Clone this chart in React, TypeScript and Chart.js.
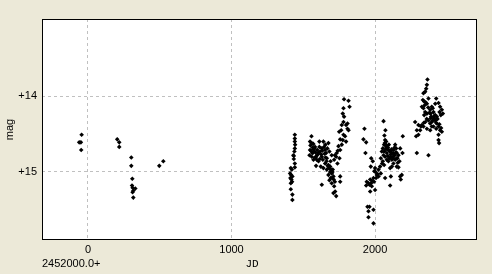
import React, { useEffect, useRef } from "react";
import { Chart, registerables } from "chart.js";

Chart.register(...registerables);

// Observing seasons: Julian Date offset (JD - 2452000) and magnitude
const jdSeason1 = [-44, -61, -49, -47, 204, 218, 218, 302, 302, 309, 307, 311, 330, 316, 311, 316, 497, 525];
const magSeason1 = [14.51, 14.61, 14.61, 14.71, 14.57, 14.61, 14.67, 14.81, 14.92, 15.09, 15.18, 15.21, 15.22, 15.25, 15.27, 15.34, 14.92, 14.86];

const jdSeason2 = [1441, 1441, 1441, 1443, 1441, 1438, 1434, 1434, 1441, 1441, 1431, 1413, 1420, 1408, 1415, 1424, 1410, 1417, 1422, 1413, 1413, 1424, 1424];
const magSeason2 = [14.51, 14.56, 14.60, 14.64, 14.69, 14.73, 14.79, 14.83, 14.89, 14.94, 14.78, 14.95, 14.97, 15.02, 15.04, 15.06, 15.08, 15.10, 15.13, 15.15, 15.23, 15.30, 15.37];

const jdSeason3 = [
  1557, 1547, 1559, 1566, 1547, 1575, 1543, 1559, 1582, 1594, 1612, 1612, 1617, 1629, 1640, 1645, 1652, 1659, 1664, 1636,
  1606, 1589, 1622, 1640, 1664, 1687, 1698, 1675, 1710, 1691, 1682, 1698, 1715, 1722, 1729, 1710, 1629, 1757, 1757, 1738,
  1752, 1729, 1715, 1733, 1698, 1682, 1668, 1654, 1675, 1571, 1594, 1606, 1582, 1571, 1687, 1705, 1675, 1652, 1629, 1598,
  1566, 1757, 1768, 1775, 1780, 1764, 1768, 1780, 1784, 1775, 1780, 1784, 1815, 1822, 1798, 1808, 1815, 1791, 1798, 1757,
  1750, 1808,
  1550, 1553, 1562, 1570, 1578, 1585, 1590, 1600, 1615, 1625, 1633, 1648, 1655, 1662, 1670, 1680, 1693, 1703, 1712, 1720,
  1700, 1690, 1720, 1740, 1745,
];
const magSeason3 = [
  14.53, 14.60, 14.62, 14.68, 14.71, 14.73, 14.78, 14.80, 14.81, 14.78, 14.60, 14.67, 14.73, 14.80, 14.60, 14.67, 14.71, 14.75, 14.82, 14.84,
  14.86, 14.92, 14.93, 14.95, 14.97, 15.00, 15.02, 15.04, 15.06, 15.08, 15.11, 15.15, 15.19, 15.26, 15.32, 15.28, 15.17, 15.13, 15.06, 14.89,
  14.82, 14.80, 14.84, 14.75, 14.78, 14.73, 14.69, 14.64, 14.62, 14.84, 14.84, 14.75, 14.67, 14.70, 14.93, 14.97, 14.91, 14.89, 14.69, 14.71,
  14.75, 14.71, 14.64, 14.58, 14.51, 14.45, 14.38, 14.34, 14.27, 14.23, 14.16, 14.04, 14.06, 14.14, 14.38, 14.43, 14.45, 14.53, 14.60, 14.57,
  14.47, 14.36,
  14.65, 14.72, 14.75, 14.63, 14.69, 14.74, 14.80, 14.77, 14.83, 14.77, 14.72, 14.76, 14.81, 14.86, 14.92, 14.95, 14.97, 15.00, 15.10, 15.13,
  15.08, 14.86, 14.78, 14.72, 14.66,
];

const jdSeason4 = [
  1926, 1919, 1938, 1933, 1973, 1984, 1970, 2000, 2012, 1989, 1966, 1942, 1938, 1954, 1977, 2000, 1966, 1947, 1961, 1954,
  1989, 1954, 1989, 2007, 2024, 2040, 1961, 1993, 2024, 1995, 2003, 2018, 1980, 1972,
  2059, 2072, 2070, 2077, 2063, 2054, 2047, 2059, 2070, 2082, 2086, 2096, 2105, 2110, 2117, 2093, 2054, 2063, 2105, 2119,
  2128, 2140, 2147, 2151, 2156, 2170, 2163, 2140, 2128, 2117, 2151, 2163, 2186, 2175, 2179, 2193, 2175, 2191, 2110, 2105,
  2070, 2040, 2049, 2035, 2077, 2063, 2124, 2137, 2082, 2128,
  2065, 2068, 2075, 2080, 2090, 2100, 2108, 2115, 2130, 2135, 2145, 2150, 2158, 2100, 2088,
];
const magSeason4 = [
  14.43, 14.57, 14.61, 14.75, 14.82, 14.86, 14.93, 14.95, 15.04, 15.08, 15.10, 15.13, 15.18, 15.15, 15.19, 15.24, 15.26, 15.46, 15.46, 15.52,
  15.50, 15.60, 15.68, 15.08, 15.06, 15.02, 15.17, 15.13, 14.97, 14.99, 15.00, 15.03, 15.12, 15.15,
  14.33, 14.45, 14.58, 14.60, 14.64, 14.69, 14.73, 14.78, 14.80, 14.75, 14.70, 14.64, 14.73, 14.80, 14.84, 14.86, 14.86, 14.91, 14.95, 14.75,
  14.71, 14.64, 14.69, 14.75, 14.82, 14.86, 14.78, 14.84, 14.89, 14.93, 14.93, 14.94, 15.04, 15.06, 15.10, 14.53, 14.69, 14.75, 15.06, 15.18,
  15.08, 14.82, 14.89, 14.93, 14.67, 14.73, 14.80, 14.78, 14.84, 14.82,
  14.52, 14.62, 14.70, 14.65, 14.68, 14.72, 14.77, 14.70, 14.76, 14.68, 14.74, 14.82, 14.88, 14.82, 14.79,
];

const jdSeason5 = [
  2365, 2361, 2356, 2337, 2349, 2333, 2342, 2361, 2372, 2326, 2337, 2349, 2342, 2361, 2384, 2395, 2407, 2419, 2426, 2442,
  2453, 2449, 2465, 2472, 2407, 2388, 2372, 2395, 2419, 2430, 2442, 2453, 2465, 2442, 2442, 2446, 2407, 2384, 2361, 2337,
  2326, 2314, 2291, 2279, 2302, 2286, 2302, 2291, 2372, 2426, 2395, 2419, 2388, 2402, 2384, 2402, 2430, 2458,
  2345, 2352, 2370, 2378, 2390, 2412, 2425, 2435, 2448, 2460, 2360, 2350, 2320, 2340,
];
const magSeason5 = [
  13.78, 13.85, 13.90, 13.96, 13.94, 14.05, 14.07, 14.10, 14.03, 14.14, 14.16, 14.21, 14.25, 14.23, 14.18, 14.14, 14.21, 14.10, 14.03, 14.09,
  14.14, 14.21, 14.18, 14.23, 14.27, 14.29, 14.32, 14.34, 14.32, 14.36, 14.40, 14.45, 14.47, 14.51, 14.58, 14.62, 14.40, 14.45, 14.43, 14.40,
  14.38, 14.45, 14.45, 14.34, 14.38, 14.53, 14.51, 14.75, 14.78, 14.43, 14.40, 14.25, 14.23, 14.16, 14.36, 14.32, 14.27, 14.25,
  14.12, 14.08, 14.15, 14.22, 14.27, 14.29, 14.35, 14.30, 14.37, 14.42, 14.30, 14.34, 14.40, 14.35,
];

const xTickValues = [0, 1000, 2000];
const yTickValues = [14, 15];
const xMin = -320;
const xMax = 2710;
const yMin = 12.98;
const yMax = 15.9;

const jdAll = [...jdSeason1, ...jdSeason2, ...jdSeason3, ...jdSeason4, ...jdSeason5];
const magAll = [...magSeason1, ...magSeason2, ...magSeason3, ...magSeason4, ...magSeason5];

const FONT = "'Liberation Sans', Arial, sans-serif";

const framePlugin = {
  id: "frameAndTexts",
  beforeDraw(chart: any) {
    const { ctx, chartArea } = chart;
    ctx.save();
    ctx.fillStyle = "#fff";
    ctx.fillRect(chartArea.left, chartArea.top, chartArea.right - chartArea.left, chartArea.bottom - chartArea.top);
    ctx.restore();
  },
  afterDraw(chart: any) {
    const { ctx, chartArea } = chart;
    ctx.save();
    ctx.strokeStyle = "#000";
    ctx.lineWidth = 1;
    ctx.strokeRect(chartArea.left + 0.5, chartArea.top + 0.5, chartArea.right - chartArea.left - 1, chartArea.bottom - chartArea.top - 1);
    ctx.fillStyle = "#000";
    ctx.font = `11px ${FONT}`;
    ctx.textBaseline = "middle";
    ctx.textAlign = "left";
    ctx.fillText("2452000.0+", chartArea.left, 264);
    ctx.font = "11px 'Liberation Mono', monospace";
    ctx.textAlign = "center";
    ctx.fillText("JD", 252, 264);
    ctx.translate(10, (chartArea.top + chartArea.bottom) / 2);
    ctx.rotate(-Math.PI / 2);
    ctx.font = `11px ${FONT}`;
    ctx.fillText("mag", 0, 0);
    ctx.restore();
  },
};

export default function App() {
  const ref = useRef<HTMLCanvasElement>(null);
  useEffect(() => {
    document.body.style.margin = "0";
    const points = jdAll.map((x, i) => ({ x, y: magAll[i] }));
    const chart = new Chart(ref.current!, {
      type: "scatter",
      data: {
        datasets: [
          {
            data: points,
            pointStyle: "rectRot",
            pointRadius: 2.3,
            pointBackgroundColor: "#000",
            pointBorderWidth: 0,
            pointBorderColor: "#000",
          },
        ],
      },
      options: {
        responsive: false,
        animation: false,
        events: [],
        layout: { padding: { top: 19, right: 15, left: 0, bottom: 0 } },
        plugins: { legend: { display: false }, tooltip: { enabled: false } },
        scales: {
          x: {
            type: "linear",
            min: xMin,
            max: xMax,
            afterFit: (s: any) => {
              s.height = 34;
            },
            afterBuildTicks: (s: any) => {
              s.ticks = xTickValues.map((v) => ({ value: v }));
            },
            ticks: {
              color: "#000",
              font: { family: FONT, size: 11 },
              padding: 3,
              maxRotation: 0,
              callback: (v: any) => String(v),
            },
            grid: { color: "#c0c0c0", drawTicks: false, lineWidth: 1 },
            border: { display: false, dash: [3, 3] },
          },
          y: {
            type: "linear",
            reverse: true,
            min: yMin,
            max: yMax,
            afterFit: (s: any) => {
              s.width = 42;
            },
            afterBuildTicks: (s: any) => {
              s.ticks = yTickValues.map((v) => ({ value: v }));
            },
            ticks: {
              color: "#000",
              font: { family: FONT, size: 11 },
              padding: 5,
              callback: (v: any) => "+" + v,
            },
            grid: { color: "#c0c0c0", drawTicks: false, lineWidth: 1 },
            border: { display: false, dash: [3, 3] },
          },
        },
      },
      plugins: [framePlugin],
    });
    return () => chart.destroy();
  }, []);
  return (
    <div style={{ position: "fixed", left: 0, top: 0, width: 492, height: 274, background: "#ECE9D8" }}>
      <canvas ref={ref} width={492} height={274} style={{ display: "block" }} />
    </div>
  );
}
